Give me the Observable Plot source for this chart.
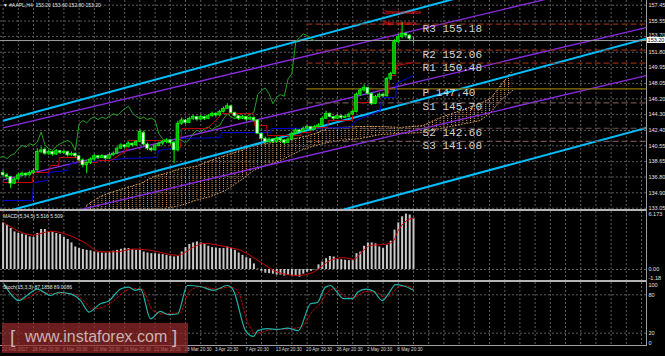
<!DOCTYPE html>
<html><head><meta charset="utf-8">
<script src="https://cdn.jsdelivr.net/npm/d3@7"></script>
<script src="https://cdn.jsdelivr.net/npm/@observablehq/plot@0.6"></script>
<style>
html,body{margin:0;padding:0;background:#000;}
#chart{position:relative;width:665px;height:356px;background:#000;overflow:hidden;font-family:"Liberation Sans",sans-serif;}
#chart svg{position:absolute;left:0;}
.lbl{position:absolute;color:#e4e4e4;font-size:5px;line-height:7px;white-space:pre;}
.sep{position:absolute;background:#b4b4b4;}
</style></head><body><div id="chart"></div><script>
// ---------- DATA ----------
const opens = [137.3,137.0,136.8,136.0,136.5,137.0,137.2,137.0,137.3,137.6,139.8,140.1,139.6,139.8,139.5,139.9,139.7,139.8,139.4,139.6,139.3,138.8,138.2,138.5,138.9,139.3,139.1,139.3,139.0,139.4,139.6,140.2,140.6,140.4,140.8,140.6,141.0,142.1,140.7,140.2,140.0,140.5,140.8,141.0,141.2,140.9,140.0,143.2,143.6,143.3,143.8,144.0,143.7,144.0,143.8,144.1,144.4,144.2,144.6,145.0,145.3,144.5,144.1,143.8,144.0,143.7,143.9,143.6,142.0,141.4,141.0,141.3,141.0,141.4,141.2,140.9,141.3,142.0,142.4,142.2,142.6,142.8,142.5,142.8,143.0,143.8,144.4,144.0,143.8,144.1,143.9,144.0,144.3,144.6,146.7,147.2,147.5,146.8,145.6,146.4,146.7,146.5,148.6,149.2,153.0,153.6,154.0,153.8,153.2];
const highs = [137.6,137.2,136.9,136.7,137.2,137.4,137.3,137.5,137.8,140.2,140.4,140.3,140.0,139.9,140.1,140.0,140.0,139.9,139.8,139.7,139.4,139.0,138.7,139.1,139.5,139.4,139.5,139.4,139.6,139.8,140.4,140.8,140.7,141.0,140.9,141.2,142.5,142.3,140.9,140.4,140.7,141.0,141.2,141.4,141.3,141.0,143.5,143.9,143.7,144.0,144.2,144.1,144.2,144.1,144.3,144.6,144.5,144.8,145.2,145.6,145.4,144.6,144.2,144.2,144.1,144.1,144.0,143.7,142.1,141.6,141.5,141.4,141.6,141.5,141.3,141.5,142.2,142.6,142.5,142.8,143.0,142.9,143.0,143.2,144.0,144.7,144.5,144.1,144.3,144.2,144.2,144.5,144.8,146.9,147.4,147.9,147.6,146.9,146.6,146.9,146.8,148.8,149.4,153.3,153.9,155.4,154.2,153.9,153.6];
const lows = [136.8,136.5,135.4,135.9,136.4,136.8,136.8,136.9,137.1,137.5,139.6,139.4,139.4,139.3,139.4,139.5,139.5,139.2,139.3,139.1,138.6,137.9,137.2,138.3,138.7,138.9,139.0,138.8,138.9,139.3,139.5,140.1,140.2,140.3,140.4,140.5,140.9,140.5,140.0,139.8,139.9,140.4,140.6,140.8,140.7,138.4,139.8,143.0,143.1,143.2,143.6,143.5,143.6,143.6,143.7,144.0,144.0,144.1,144.5,144.9,144.4,143.9,143.6,143.7,143.5,143.6,143.4,141.9,141.2,140.8,140.9,140.8,140.9,141.0,140.7,140.8,141.2,141.9,142.0,142.1,142.5,142.3,142.4,142.7,142.9,143.7,143.9,143.6,143.7,143.7,143.8,143.9,144.2,144.5,146.5,147.0,146.6,145.4,145.5,146.2,146.3,146.4,148.4,149.1,152.8,153.4,153.5,153.2,152.8];
const closes = [137.0,136.8,136.0,136.5,137.0,137.2,137.0,137.3,137.5,139.8,140.0,139.6,139.8,139.5,139.9,139.7,139.8,139.4,139.6,139.3,138.8,138.2,138.5,138.9,139.3,139.1,139.3,139.0,139.4,139.6,140.2,140.6,140.4,140.8,140.6,141.0,142.2,140.7,140.2,140.0,140.5,140.8,141.0,141.2,140.9,140.0,143.2,143.6,143.3,143.8,144.0,143.7,144.0,143.8,144.1,144.4,144.2,144.6,145.0,145.3,144.5,144.1,143.8,144.0,143.7,143.9,143.6,142.0,141.4,141.0,141.3,141.0,141.4,141.2,140.9,141.3,142.0,142.4,142.2,142.6,142.8,142.5,142.8,143.0,143.8,144.4,144.0,143.8,144.1,143.9,144.0,144.3,144.6,146.7,147.2,147.5,146.8,145.6,146.4,146.7,146.5,148.6,149.2,153.0,153.6,154.0,153.8,153.4,153.2];

const priceTicks = [157.45,155.55,153.70,151.80,149.95,148.05,146.20,144.30,142.40,140.55,138.65,136.80,134.90,133.05];
const priceTickLabels = ["157.45","155.55","153.70","151.80","149.95","148.05","146.20","144.30","142.40","140.55","138.65","136.80","134.90","133.05"];

const dateBars = [0,8,16,24,32,40,48,56,64,72,80,88,96,104];
const dateLabels = ["22 Feb 2017","28 Feb 20:30","6 Mar 20:30","10 Mar 20:30","16 Mar 20:30","22 Mar 20:30","28 Mar 20:30","3 Apr 20:30","7 Apr 20:30","13 Apr 20:30","20 Apr 20:30","26 Apr 20:30","2 May 20:30","8 May 20:30"];

const tenkanBars = [0,7.7,8.0,11.9,12.5,14.6,14.8,19.6,19.8,24.8,25.1,28.3,32.5,32.8,44.1,44.3,46.7,47.0,53.8,55.9,57.7,65.9,66.2,69.3,69.6,78.3,78.5,80.9,81.2,85.4,85.6,91.9,92.2,96.7,98.0,101.4,101.7,103.3,103.5,108];
const tenkanVals = [136.14,136.14,137.34,137.34,138.18,138.18,139.14,139.14,138.54,138.54,138.78,138.78,139.98,141.18,141.18,140.34,140.34,142.62,142.62,143.58,144.42,144.42,142.98,142.98,141.78,141.78,142.14,142.14,142.74,142.74,143.58,143.58,145.75,145.75,146.35,146.84,149.0,149.0,150.2,150.56];

const kijunBars = [0,7.7,8.0,11.7,11.9,16.7,17.7,32.2,40.6,40.9,45.6,45.9,57.2,57.5,70.4,70.6,91.4,92.7,99.3,99.6,103.3,103.5,108];
const kijunVals = [133.98,133.98,136.14,136.38,137.34,137.58,138.42,139.02,139.14,139.98,140.34,141.42,141.54,142.14,142.14,142.62,142.74,143.58,144.78,146.35,146.35,148.03,149.0];

const cloudBars = [22,23.8,25.6,28.3,30.9,33.5,36.2,39.6,42.7,46.7,50.6,54.6,58.5,62.5,65.9,69.1,73,78.3,82.2,85.4,88.8,94,99.3,104.6,110.6,115.1,120.4,125.6,128.3,130.9,134.1];
const cloudSpanA = [133.38,133.98,134.46,134.94,135.30,135.66,136.02,136.86,137.22,137.82,138.06,138.78,139.38,139.98,140.59,140.83,141.07,141.55,142.03,142.63,142.75,142.87,142.87,142.75,142.99,143.95,144.79,145.63,146.23,147.79,149.60];
const cloudSpanB = [132.60,132.50,132.30,132.10,132.00,132.00,132.00,132.20,133.02,133.38,133.98,134.46,135.18,136.38,137.58,138.18,138.78,140.00,140.59,140.95,141.19,141.43,141.91,142.03,142.15,142.63,143.11,143.59,144.55,146.00,147.20];

// trend channels: [bar1, price1, bar2, price2]
const cyanLines = [[0,143.57,170,164.53],[0,132.55,170,153.51],[0,121.84,170,142.80]];
const purpleLines = [[0,142.70,170,161.10],[0,136.45,170,154.85],[0,130.68,170,149.08]];

const pivotNames = ["R3","R2","R1","P","S1","S2","S3"];
const pivotValues = [155.18,152.06,150.48,147.40,145.70,142.66,141.08];
const pivotStartBar = 80;

const macdHist = [5.0,4.77,4.4,4.04,3.87,3.8,3.69,3.5,3.44,3.87,4.3,4.3,4.04,4.04,3.87,3.75,3.44,3.22,2.85,2.42,2.25,2.15,2.06,2.0,1.88,1.8,1.77,1.77,1.8,1.96,2.06,2.17,2.25,2.25,2.15,2.06,2.06,1.88,1.77,1.7,1.7,1.65,1.6,1.52,1.42,1.35,1.42,1.88,2.35,2.68,2.85,2.96,2.85,2.7,2.5,2.35,2.3,2.25,2.25,2.42,2.25,2.06,1.77,1.52,1.27,1.16,0.6,0.05,-0.2,-0.4,-0.45,-0.5,-0.6,-0.6,-0.7,-0.6,-0.7,-0.75,-0.82,-0.5,-0.3,-0.2,-0.05,0.5,0.8,1.16,1.4,1.34,1.06,1.06,1.0,0.95,0.95,1.7,1.88,2.5,2.85,2.85,2.75,2.42,2.25,2.6,3.04,4.23,5.0,5.66,5.95,5.85,5.516];
const macdSigBars = [0.2,8,12.5,21,25.6,30,34.3,38.8,45.9,50.1,52.7,59,62.5,67.7,72.2,77.5,81.7,86.2,89.6,92.2,94.8,96.7,100.1,102.5,104,106.4,108];
const macdSigVals = [5.0,3.7,4.1,3.0,1.9,1.9,2.2,2.06,1.52,2.4,2.8,2.4,2.06,0.8,-0.28,-0.64,-0.28,1.0,1.27,1.09,2.06,2.6,2.68,2.96,4.2,5.3,5.509];

const stochBars = [0.2,2.8,4.1,6.3,9,12.5,14.7,17.7,20.4,22.6,25.6,27.7,30.9,33,34.8,36.2,38.8,41.4,43.5,45.9,48.5,51.9,55.4,59,60.6,63.8,65.9,67,69.6,72.2,74.8,77.7,80.9,82.7,84.8,86.2,87.5,89.6,92,93.3,95.4,97.5,99.8,101.4,103.3,105.1,108];
const stochVals = [97,76,71,79,89,79,84,81.5,71,53,66,70,89,92,87,89,42.5,54,49,50,94.5,93,87,94.5,87,24,15,24,27,26,28,24,66,68,92,94.5,87,74,74,84,89,85.6,71,81.5,96,94.5,87.19];
const stochSigBars = [0.5,3,5,7,9.5,12.5,15,18,21,23.5,26,28.5,31.5,34,36.5,39.5,42,44,46.5,49,52,56,59.5,61.5,64.5,66.5,68,70,73,75.5,78.5,81.5,83.5,85.5,87.5,89,91,93,95.5,98,100.5,102,104,106,108];
const stochSigVals = [95,82,73,76,85,82,82,82,72,58,60,68,83,90,89,55,50,51,52,85,93,89,92,88,35,20,21,25,26,27,30,55,67,85,90,82,75,78,85,84,76,80,92,94,89.01];

// ---------- LAYOUT ----------
const X0 = 2.6, DX = 3.8, NB = 170;
const xOpt = {domain:[0,NB], range:[X0, X0+NB*DX], axis:null};
const gridBars = d3.range(0, NB, 4);
const GRID = "#5c5c5c";
const AXF = "Liberation Sans, sans-serif";
const baseStyle = {background:"transparent", overflow:"visible", fontFamily:AXF, fontSize:"5.5px", color:"#e0e0e0"};
const chart = document.getElementById("chart");

const bars = closes.map((c,i)=>({i, open:opens[i], high:highs[i], low:lows[i], close:c}));
const lastClose = closes[closes.length-1];
const tenkan = tenkanBars.map((b,k)=>({i:b, v:tenkanVals[k]}));
const kijun = kijunBars.map((b,k)=>({i:b, v:kijunVals[k]}));
const cloud = cloudBars.map((b,k)=>({i:b, a:cloudSpanA[k], b:cloudSpanB[k]}));
const channels = [
  ...cyanLines.map(l=>({x1:l[0],y1:l[1],x2:l[2],y2:l[3],c:"#00bfff",w:2})),
  ...purpleLines.map(l=>({x1:l[0],y1:l[1],x2:l[2],y2:l[3],c:"#8a2be2",w:1.3}))
];
const pivots = pivotNames.map((n,k)=>({name:n, v:pivotValues[k], label:n+" "+pivotValues[k].toFixed(2)}));
const tickRows = priceTicks.map((t,i)=>({t, label:priceTickLabels[i], near: Math.abs(priceTicks[i]-lastClose) < 0.8}));

const main = Plot.plot({
  width:665, height:209, marginTop:0, marginBottom:0, marginLeft:0, marginRight:19,
  style: baseStyle,
  x: xOpt,
  y: {domain:[132.894,158.015], range:[209,0], axis:null},
  marks: [
    Plot.ruleX(gridBars, {x:d=>d, stroke:GRID, strokeDasharray:"2,2"}),
    Plot.ruleY(priceTicks, {y:d=>d, stroke:GRID, strokeDasharray:"2,2"}),
    Plot.areaY(cloud, {x:"i", y1:"a", y2:"b", fill:"url(#kumo)", clip:true}),
    Plot.line(cloud, {x:"i", y:"a", stroke:"#d4985c", strokeDasharray:"1,2", strokeWidth:1, clip:true}),
    Plot.line(cloud, {x:"i", y:"b", stroke:"#d4985c", strokeDasharray:"1,2", strokeWidth:1, clip:true}),
    Plot.link(channels, {x1:"x1", y1:"y1", x2:"x2", y2:"y2", stroke:"c", strokeWidth:"w", clip:true}),
    Plot.ruleY(pivots.filter(p=>p.name[0]==="R"), {y:"v", x1:pivotStartBar, x2:NB, stroke:"#8a2c14", strokeWidth:1.2, strokeDasharray:"6,3", clip:true}),
    Plot.ruleY(pivots.filter(p=>p.name[0]==="S"), {y:"v", x1:pivotStartBar, x2:NB, stroke:"#6e5252", strokeWidth:1.2, strokeDasharray:"6,3", clip:true}),
    Plot.ruleY(pivots.filter(p=>p.name==="P"), {y:"v", x1:pivotStartBar, x2:NB, stroke:"#8c7400", strokeWidth:1.2, clip:true}),
    Plot.ruleY([lastClose], {y:d=>d, stroke:"#a0a0a0", strokeWidth:1}),
    Plot.line(bars, {x:d=>d.i-26, y:"close", stroke:"#24a024", strokeWidth:1, clip:true}),
    Plot.line(kijun, {x:"i", y:"v", stroke:"#0000d8", strokeWidth:1, clip:true}),
    Plot.line(tenkan, {x:"i", y:"v", stroke:"#c80000", strokeWidth:1, clip:true}),
    Plot.ruleX(bars, {x:"i", y1:"low", y2:"high", stroke:"#00ff00", strokeWidth:1, clip:true}),
    Plot.rect(bars, {x1:d=>d.i-0.36, x2:d=>d.i+0.36, y1:d=>Math.min(d.open,d.close), y2:d=>Math.max(d.open,d.close),
      fill:d=>d.close>=d.open?"#00b400":"#ffffff", stroke:"#00ff00", strokeWidth:0.7, clip:true}),
    Plot.text(pivots, {x:110.4, y:"v", text:"label", textAnchor:"start", dy:4, fill:"#d2d2d2", fontFamily:"Liberation Mono, monospace", fontSize:11}),
    Plot.text(tickRows.filter(r=>!r.near), {y:"t", text:"label", frameAnchor:"right", dx:2, textAnchor:"start", fill:"#e0e0e0", fontSize:5.5}),
    Plot.text(tickRows.filter(r=>r.near), {y:"t", text:"label", frameAnchor:"right", dx:2, dy:-1.6, textAnchor:"start", fill:"#e0e0e0", fontSize:5.5}),
    Plot.text(["Uptrend resistance"], {x:100.0, y:156.55, text:d=>d, textAnchor:"start", fill:"#ff2020", fontSize:4.5}),
    Plot.text(["Major resistance"], {x:100.0, y:155.3, text:d=>d, textAnchor:"start", fill:"#ff2020", fontSize:4.5}),
    Plot.text(["↓"], {x:104.6, y:154.4, text:d=>d, fill:"#ff2020", fontSize:7, fontWeight:"bold"}),
    Plot.text(["↓"], {x:101.2, y:153.5, text:d=>d, fill:"#ff2020", fontSize:7, fontWeight:"bold"})
  ]
});
main.style.top = "0px";
// hatch pattern for the Ichimoku cloud
const defs = d3.select(main).insert("defs", ":first-child");
const pat = defs.append("pattern").attr("id","kumo").attr("patternUnits","userSpaceOnUse")
  .attr("x", X0).attr("y", 0).attr("width", DX).attr("height", 2);
pat.append("rect").attr("x",0).attr("y",0).attr("width",1).attr("height",1).attr("fill","#d4985c");
chart.appendChild(main);

const macdRows = macdHist.map((v,i)=>({i, v}));
const macdSig = macdSigBars.map((b,k)=>({i:b, v:macdSigVals[k]}));
const macdTicks = [6.173, 0, -1.18];
const macdTickLabels = ["6.173","0.00","-1.18"];
const macdTickDy = [2.5, 0, -2.5];
const macd = Plot.plot({
  width:665, height:69, marginTop:0, marginBottom:0, marginLeft:0, marginRight:19,
  style: baseStyle,
  x: xOpt,
  y: {domain:[-1.18,6.173], range:[69,0.5], axis:null},
  marks: [
    Plot.ruleX(gridBars, {x:d=>d, stroke:GRID, strokeDasharray:"2,2"}),
    Plot.ruleY([0], {y:d=>d, stroke:GRID, strokeDasharray:"2,2"}),
    Plot.ruleX(macdRows, {x:"i", y1:0, y2:"v", stroke:"#c8c8c8", strokeWidth:2, clip:true}),
    Plot.line(macdSig, {x:"i", y:"v", stroke:"#d00000", strokeWidth:1, curve:"monotone-x", clip:true}),
    ...macdTicks.map((t,k)=>Plot.text([t], {y:d=>d, text:()=>macdTickLabels[k], frameAnchor:"right", dx:2, dy:macdTickDy[k], textAnchor:"start", fill:"#e0e0e0", fontSize:5.5}))
  ]
});
macd.style.top = "211px";
chart.appendChild(macd);

const stoch = stochBars.map((b,k)=>({i:b, v:stochVals[k]}));
const stochSig = stochSigBars.map((b,k)=>({i:b, v:stochSigVals[k]}));
const stTicks = [100, 80, 20, 0];
const stTickDy = [3, 0, 0, -3];
const dates = dateBars.map((b,k)=>({i:b, label:dateLabels[k]}));
const stPlot = Plot.plot({
  width:665, height:74, marginTop:0, marginBottom:10.5, marginLeft:0, marginRight:19,
  style: baseStyle,
  x: xOpt,
  y: {domain:[0,100], range:[63.5,-0.5], axis:null},
  marks: [
    Plot.ruleX(gridBars, {x:d=>d, stroke:GRID, strokeDasharray:"2,2"}),
    Plot.ruleY([80,20], {y:d=>d, stroke:GRID, strokeDasharray:"2,2"}),
    Plot.line(stochSig, {x:"i", y:"v", stroke:"#d00000", strokeDasharray:"2,2", strokeWidth:1, curve:"monotone-x", clip:true}),
    Plot.line(stoch, {x:"i", y:"v", stroke:"#20b2aa", strokeWidth:1.2, curve:"monotone-x", clip:true}),
    ...stTicks.map((t,k)=>Plot.text([t], {y:d=>d, text:d=>String(d), frameAnchor:"right", dx:2, dy:stTickDy[k], textAnchor:"start", fill:"#e0e0e0", fontSize:5.5})),
    Plot.text(dates, {x:"i", text:"label", frameAnchor:"bottom", dy:5, dx:-1, textAnchor:"start", fill:"#d8d8d8", fontSize:4.6})
  ]
});
stPlot.style.top = "282px";
chart.appendChild(stPlot);

// chart chrome
function addDiv(cls, css, text){ const d=document.createElement("div"); d.className=cls; Object.assign(d.style, css); if(text) d.textContent=text; chart.appendChild(d); return d; }
addDiv("sep", {left:"0px", top:"209px", width:"647px", height:"2px"});
addDiv("sep", {left:"0px", top:"280px", width:"647px", height:"2px"});
addDiv("sep", {left:"0px", top:"345px", width:"647px", height:"1px", background:"#a0a0a0"});
addDiv("sep", {left:"646px", top:"0px", width:"1px", height:"346px", background:"#a0a0a0"});
addDiv("lbl", {left:"3px", top:"2px"}, "\u25BC #AAPL,H4  153.20 153.60 152.80 153.20");
addDiv("lbl", {left:"3px", top:"213px"}, "MACD(5,34,5) 5.516 5.509");
addDiv("lbl", {left:"3px", top:"284px"}, "Stoch(15,3,3) 87.1858 89.0086");
const yPx = main.scale("y").apply(lastClose);
addDiv("lbl", {left:"647px", top:(yPx-2.6)+"px", width:"18px", height:"6px", lineHeight:"6px", background:"#ffffff", color:"#000", textAlign:"center", fontSize:"5.5px"}, lastClose.toFixed(2));
// watermark
addDiv("", {position:"absolute", left:"2px", top:"323px", width:"186px", height:"30px", background:"rgba(150,40,40,0.72)"});
addDiv("", {position:"absolute", left:"10px", top:"326px", color:"#c8b4b4", fontFamily:AXF, fontSize:"19px", whiteSpace:"pre"}, "[");
addDiv("", {position:"absolute", left:"25px", top:"328px", color:"#c8b4b4", fontFamily:AXF, fontSize:"16px", whiteSpace:"pre"}, "www.instaforex.com");
addDiv("", {position:"absolute", left:"172px", top:"326px", color:"#c8b4b4", fontFamily:AXF, fontSize:"19px", whiteSpace:"pre"}, "]");
</script></body></html>
